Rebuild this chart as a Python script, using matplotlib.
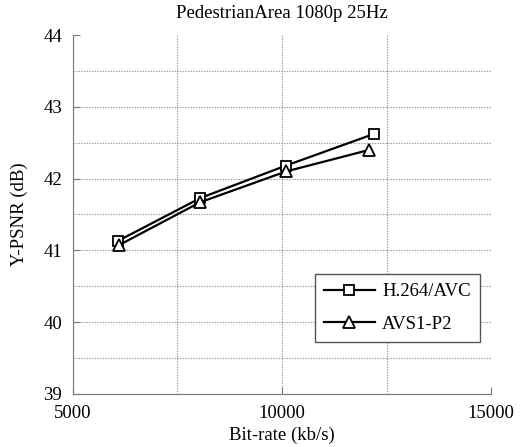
import matplotlib
matplotlib.use("Agg")
import matplotlib.pyplot as plt

# rate-distortion points
h264_rate = [6070, 8050, 10090, 12190]
h264_psnr = [41.13, 41.73, 42.18, 42.62]
avs_rate = [6090, 8040, 10100, 12090]
avs_psnr = [41.07, 41.67, 42.10, 42.40]

plt.rcParams['font.family'] = ['Liberation Serif', 'DejaVu Serif']

fig = plt.figure(figsize=(5.27, 4.47), dpi=100)
ax = fig.add_axes([0.1385, 0.1186, 0.7932, 0.8031])

ax.plot(h264_rate, h264_psnr, 'k-', marker='s', markersize=6.5, markerfacecolor='white',
        markeredgecolor='black', markeredgewidth=1.3, lw=1.6, label='H.264/AVC')
ax.plot(avs_rate, avs_psnr, 'k-', marker='^', markersize=8, markerfacecolor='white',
        markeredgecolor='black', markeredgewidth=1.3, lw=1.6, label='AVS1-P2')

ax.set_xlim(5000, 15000)
ax.set_ylim(39, 44)
ax.set_xticks([5000, 10000, 15000])
ax.set_xticks([7500, 12500], minor=True)
ax.set_yticks([39, 40, 41, 42, 43, 44])
ax.set_yticks([39.5, 40.5, 41.5, 42.5, 43.5], minor=True)
ax.grid(True, which='both', linestyle=(0, (1.2, 1.2)), color='#999999', lw=0.8)
# no grid line along the top and right edges
ax.xaxis.get_gridlines()[-1].set_visible(False)
ax.yaxis.get_gridlines()[-1].set_visible(False)
ax.tick_params(which='both', direction='in', length=5, labelsize=13.5, pad=8,
               color='#777777')
ax.tick_params(which='minor', length=0)

for s in ['top', 'right']:
    ax.spines[s].set_visible(False)
ax.spines['left'].set_color('#777777')
ax.spines['bottom'].set_color('#777777')

ax.set_xlabel('Bit-rate (kb/s)', fontsize=13.5, labelpad=3)
ax.set_ylabel('Y-PSNR (dB)', fontsize=13.5, labelpad=11)
ax.set_title('PedestrianArea 1080p 25Hz', fontsize=13.5, pad=12)

leg = ax.legend(loc='lower right', bbox_to_anchor=(0.974, 0.145), borderaxespad=0,
                fancybox=False, framealpha=1, edgecolor='#555555', fontsize=13.5,
                handlelength=2.7, borderpad=0.5, labelspacing=0.8, handletextpad=0.4)
leg.get_frame().set_linewidth(1.0)

fig.savefig('out.png', dpi=100)
